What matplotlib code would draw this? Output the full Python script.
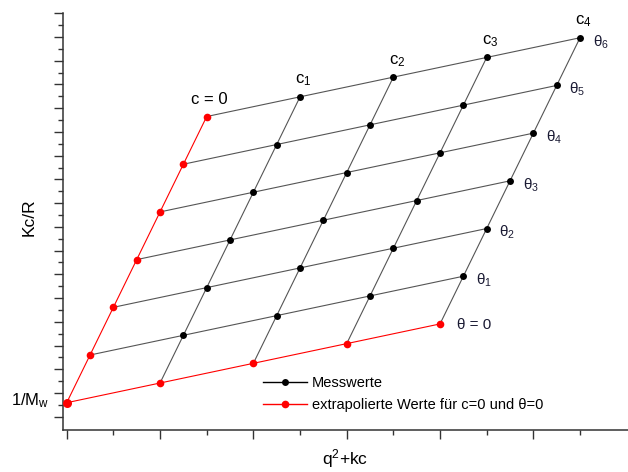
import matplotlib
matplotlib.use("Agg")
import matplotlib.pyplot as plt
from matplotlib.ticker import FixedLocator
from matplotlib.lines import Line2D

plt.rcParams['font.family'] = ['Liberation Sans', 'DejaVu Sans']
plt.rcParams['mathtext.fontset'] = 'custom'
plt.rcParams['mathtext.rm'] = 'Liberation Sans'
plt.rcParams['mathtext.it'] = 'Liberation Sans'
plt.rcParams['mathtext.bf'] = 'Liberation Sans:bold'

# grid of points: rows = concentration index (c=0 .. c4), columns = angle index (theta=0 .. theta6)
x_vals = [
    [0.00, 0.25, 0.50, 0.75, 1.00, 1.25, 1.50],
    [1.00, 1.25, 1.50, 1.75, 2.00, 2.25, 2.50],
    [2.00, 2.25, 2.50, 2.75, 3.00, 3.25, 3.50],
    [3.00, 3.25, 3.50, 3.75, 4.00, 4.25, 4.50],
    [4.00, 4.25, 4.50, 4.75, 5.00, 5.25, 5.50],
]
y_vals = [
    [0.59, 2.60, 4.61, 6.62, 8.63, 10.64, 12.65],
    [1.42, 3.43, 5.44, 7.45, 9.46, 11.47, 13.48],
    [2.25, 4.26, 6.27, 8.28, 10.29, 12.30, 14.31],
    [3.08, 5.09, 7.10, 9.11, 11.12, 13.13, 15.14],
    [3.91, 5.92, 7.93, 9.94, 11.95, 13.96, 15.97],
]
c_labels = ["c = 0", "c$_1$", "c$_2$", "c$_3$", "c$_4$"]
theta_labels = ["θ = 0", "θ$_1$", "θ$_2$", "θ$_3$", "θ$_4$", "θ$_5$", "θ$_6$"]
legend_labels = ["Messwerte", "extrapolierte Werte für c=0 und θ=0"]
x_label = "q$^2$+kc"
y_label = "Kc/R"
mw_label = "1/M$_{\\mathrm{w}}$"

x_major = [0, 1, 2, 3, 4, 5]
x_minor = [0.5, 1.5, 2.5, 3.5, 4.5, 5.5]
y_major = list(range(0, 18))
y_minor = [v + 0.5 for v in range(0, 17)]

W, H = 628, 472
fig = plt.figure(figsize=(W / 100, H / 100), dpi=100)
ax = fig.add_axes([62.7 / W, 42 / H, (W - 62.7) / W, (430 - 13.3) / H])

nc = len(x_vals)
nt = len(x_vals[0])
gray = '#555555'
red = '#ff0000'

# constant-theta lines
for j in range(nt):
    xs = [x_vals[i][j] for i in range(nc)]
    ys = [y_vals[i][j] for i in range(nc)]
    ax.plot(xs, ys, color=red if j == 0 else gray, lw=0.8, zorder=2)
# constant-c lines
for i in range(nc):
    ax.plot(x_vals[i], y_vals[i], color=red if i == 0 else gray, lw=0.8, zorder=2)

# points
for i in range(nc):
    for j in range(nt):
        extrap = (i == 0 or j == 0)
        ax.plot(x_vals[i][j], y_vals[i][j], 'o',
                color=red if extrap else 'black',
                ms=6.5 if (i == 0 and j == 0) else (5.5 if extrap else 5.0),
                mec='none', zorder=4 if extrap else 3)

# c labels above the top row
for i in range(nc):
    if i == 0:
        ax.annotate(c_labels[i], (x_vals[i][nt - 1], y_vals[i][nt - 1]),
                    xytext=(2, 7), textcoords='offset points',
                    ha='center', va='bottom', fontsize=12)
    else:
        ax.annotate(c_labels[i], (x_vals[i][nt - 1], y_vals[i][nt - 1]),
                    xytext=(2.5, 6), textcoords='offset points',
                    ha='center', va='bottom', fontsize=12)
# theta labels right of the last column
for j in range(nt):
    ax.annotate(theta_labels[j], (x_vals[nc - 1][j], y_vals[nc - 1][j]),
                xytext=(12 if j == 0 else 9, -1 if j == 0 else -3),
                textcoords='offset points',
                ha='left', va='center', fontsize=11, color='#1a1a33')

ax.set_xlim(-0.043, 6.014)
ax.set_ylim(-0.56, 17.0)
ax.xaxis.set_major_locator(FixedLocator(x_major))
ax.xaxis.set_minor_locator(FixedLocator(x_minor))
ax.yaxis.set_major_locator(FixedLocator(y_major))
ax.yaxis.set_minor_locator(FixedLocator(y_minor))
ax.tick_params(which='major', direction='out', length=6.5, width=1.0, color='#333333',
               labelbottom=False, labelleft=False)
ax.tick_params(which='minor', direction='out', length=3.8, width=1.0, color='#333333')
for s in ['top', 'right']:
    ax.spines[s].set_visible(False)
for s in ['left', 'bottom']:
    ax.spines[s].set_linewidth(1.1)
    ax.spines[s].set_color('#333333')

ax.set_xlabel(x_label, fontsize=12.5, labelpad=5)
ax.set_ylabel(y_label, fontsize=12.5)
ax.yaxis.set_label_coords(-0.046, 0.511)

ax.annotate(mw_label, (0, y_vals[0][0]), xycoords=('axes fraction', 'data'),
            xytext=(-37, 1.5), textcoords='offset points', ha='left', va='center',
            fontsize=12)

handles = [Line2D([], [], color='black', lw=1.0, marker='o', ms=5, mec='none'),
           Line2D([], [], color=red, lw=1.0, marker='o', ms=5.5, mec='none')]
ax.legend(handles, legend_labels, loc='upper left', bbox_to_anchor=(0.354, 0.130),
          frameon=False, fontsize=10.5, handlelength=3.0, handletextpad=0.35,
          borderpad=0, borderaxespad=0, labelspacing=0.55)

fig.savefig('out.png', dpi=100)
